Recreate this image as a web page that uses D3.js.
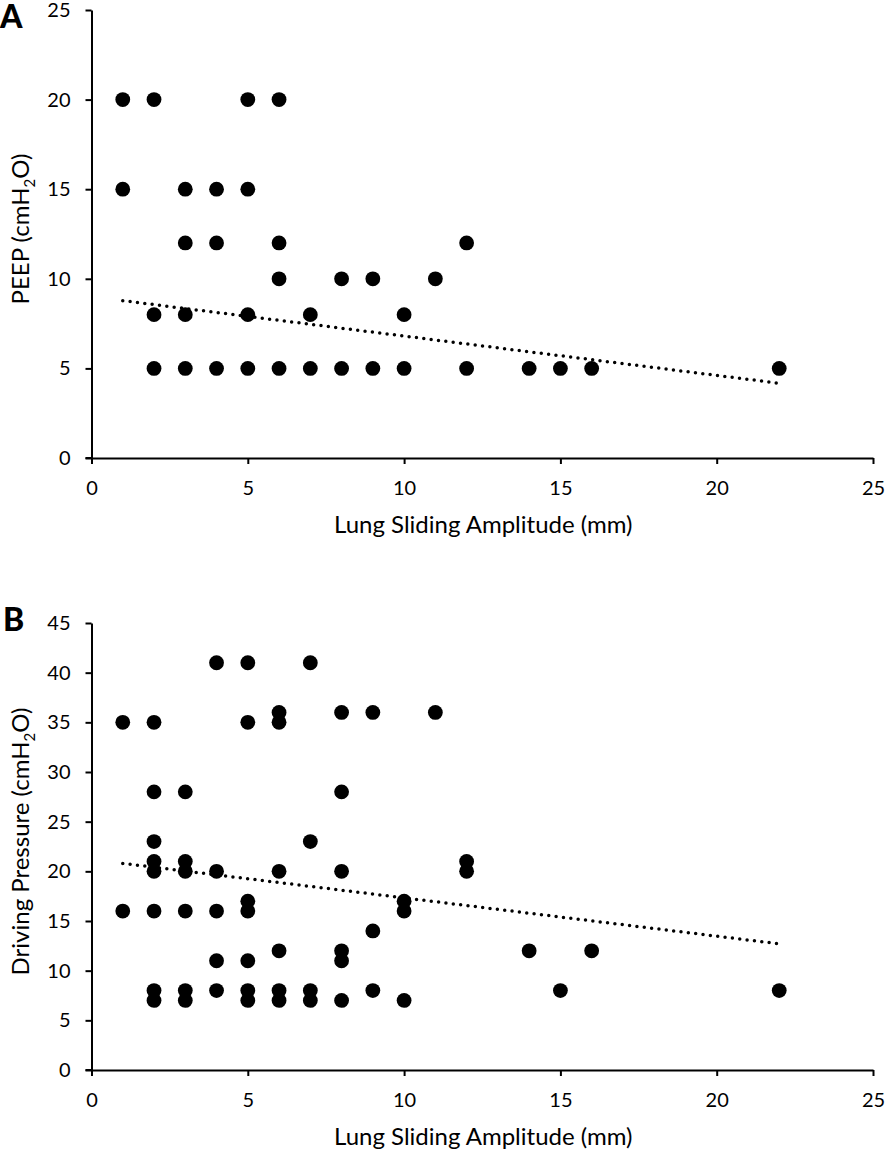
<!DOCTYPE html>
<html><head><meta charset="utf-8">
<script src="https://cdn.jsdelivr.net/npm/d3@7"></script>
<style>body{margin:0;background:#fff}svg text{font-family:Lato,"Open Sans",sans-serif;fill:#000}</style>
</head><body>
<script>
// Panel A: PEEP vs lung sliding amplitude
const peepX = [1,2,5,6, 1,3,4,5, 3,4,6,12, 6,8,9,11, 2,3,5,7,10, 2,3,4,5,6,7,8,9,10,12,14,15,16,22];
const peepY = [20,20,20,20, 15,15,15,15, 12,12,12,12, 10,10,10,10, 8,8,8,8,8, 5,5,5,5,5,5,5,5,5,5,5,5,5,5];
const peepTrend = [[1,8.78],[22,4.17]];
// Panel B: driving pressure vs lung sliding amplitude
const dpX = [1,1, 2,2,2,2,2,2,2,2, 3,3,3,3,3,3, 4,4,4,4,4, 5,5,5,5,5,5,5, 6,6,6,6,6,6, 7,7,7,7, 8,8,8,8,8,8, 9,9,9, 10,10,10, 11, 12,12, 14,15,16,22];
const dpY = [35,16, 35,28,23,21,20,16,8,7, 28,21,20,16,8,7, 41,20,16,11,8, 41,35,17,16,11,8,7, 36,35,20,12,8,7, 41,23,8,7, 36,28,20,12,11,7, 36,14,8, 17,16,7, 36, 21,20, 12,8,12,8];
const dpTrend = [[1,20.8],[22,12.7]];
const xTicks = [0,5,10,15,20,25];
const yTicksA = [0,5,10,15,20,25];
const yTicksB = [0,5,10,15,20,25,30,35,40,45];

const W = 885, H = 1153;
const svg = d3.select("body").append("svg").attr("width", W).attr("height", H);

function panel(opts){
  const g = svg.append("g");
  const x = d3.scaleLinear().domain([0,25]).range([91.5,873]);
  const y = d3.scaleLinear().domain([0,opts.ymax]).range([opts.y0,opts.y1]);
  const xa = g.append("g").attr("transform",`translate(0,${opts.y0})`)
    .call(d3.axisBottom(x).tickValues(xTicks).tickSize(6).tickSizeOuter(0).tickPadding(17));
  const ya = g.append("g").attr("transform",`translate(${x(0)},0)`)
    .call(d3.axisLeft(y).tickValues(opts.yTicks).tickSize(6).tickSizeOuter(0).tickPadding(15));
  [xa,ya].forEach(a=>{
    a.select(".domain").attr("stroke","#000").attr("stroke-width",2);
    a.selectAll(".tick line").attr("stroke","#000").attr("stroke-width",2);
    a.selectAll(".tick text").style("font-size","20px").attr("fill","#000");
  });
  g.append("line").attr("x1",x(0)-6).attr("x2",x(0)).attr("y1",opts.y0).attr("y2",opts.y0)
    .attr("stroke","#000").attr("stroke-width",2);
  const line = d3.line().x(d=>x(d[0])).y(d=>y(d[1]));
  g.append("path").attr("d",line(opts.trend)).attr("fill","none").attr("stroke","#000")
    .attr("stroke-width",3.5).attr("stroke-linecap","round").attr("stroke-dasharray","0,7.4");
  g.selectAll("circle").data(opts.xs.map((v,i)=>[v,opts.ys[i]])).join("circle")
    .attr("cx",d=>x(d[0])).attr("cy",d=>y(d[1])).attr("r",7.4).attr("fill","#000");
  g.append("text").attr("x",(x(0)+x(25))/2+1).attr("y",opts.y0+75).attr("text-anchor","middle")
    .style("font-size","24px").text("Lung Sliding Amplitude (mm)");
  const yt = g.append("text").attr("transform",`translate(${opts.ytx},${(opts.y0+opts.y1)/2-5}) rotate(-90)`)
    .attr("text-anchor","middle").style("font-size","24px");
  yt.append("tspan").text(opts.ylabel+" (cmH");
  yt.append("tspan").attr("dy",6).style("font-size","15px").text("2");
  yt.append("tspan").attr("dy",-6).text("O)");
  g.append("text").attr("x",opts.lx).attr("y",opts.ly).style("font-size","32px").style("font-weight","900").text(opts.letter);
}
panel({xs:peepX, ys:peepY, trend:peepTrend, ymax:25, y0:458, y1:10, yTicks:yTicksA, ylabel:"PEEP", ytx:29, letter:"A", lx:0, ly:28});
panel({xs:dpX, ys:dpY, trend:dpTrend, ymax:45, y0:1070, y1:623, yTicks:yTicksB, ylabel:"Driving Pressure", ytx:29, letter:"B", lx:3, ly:631});
</script>
</body></html>
